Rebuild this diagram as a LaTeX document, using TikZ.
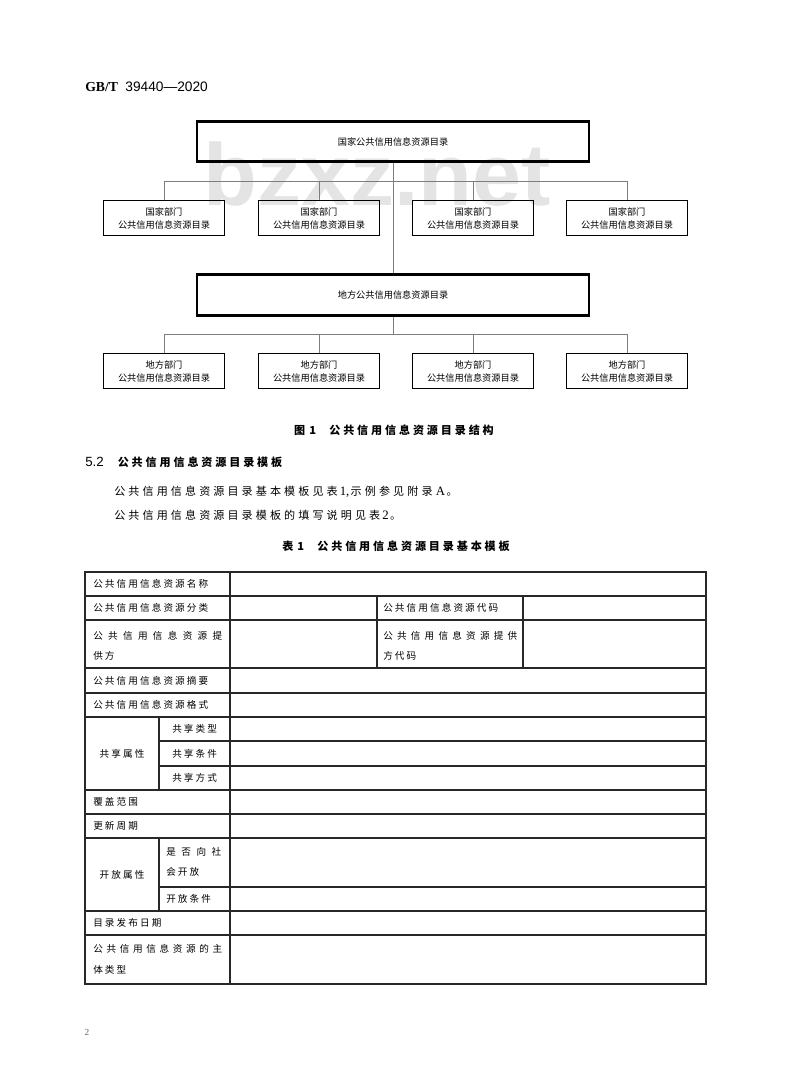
\documentclass[tikz,border=0pt]{standalone}
\usepackage{fontspec}
\setmainfont{Liberation Serif}
\newfontfamily\hei{Noto Sans CJK SC}
\newfontfamily\heisp[LetterSpace=26]{Noto Sans CJK SC}
\newfontfamily\song[LetterSpace=22]{Noto Sans CJK SC}
\newfontfamily\songwide[LetterSpace=28]{Noto Sans CJK SC}
\newfontfamily\arial{Liberation Sans}
\definecolor{linkgray}{RGB}{125,125,125}
\definecolor{wmgray}{RGB}{228,228,228}
\definecolor{rulegray}{RGB}{40,40,40}
% spread a line of characters over a given width (in px)
\newcommand\spreadline[2]{\makebox[\dimexpr #1pt*3/4\relax][s]{#2}}
% latin bits inside the body text
\newcommand\lat[1]{{\rmfamily\fontsize{9.6}{10}\selectfont #1}}

\begin{document}
\begin{tikzpicture}[x=0.75pt, y=-0.75pt,
    topbox/.style={draw, line width=2.2pt, minimum width=294pt, minimum height=30.5pt,
                   inner sep=0pt, font=\hei\fontsize{6.9}{8}\selectfont},
    subbox/.style={draw, line width=0.9pt, minimum width=91.3pt, minimum height=26pt,
                   inner sep=0pt, align=center, font=\hei\fontsize{6.9}{9.75}\selectfont},
    link/.style={draw=linkgray, line width=0.7pt},
    tbl/.style={draw=rulegray, line width=0.8pt},
    cell/.style={anchor=west, inner sep=0pt, font=\song\fontsize{7.2}{9}\selectfont},
    ccell/.style={inner sep=0pt, font=\song\fontsize{7.2}{9}\selectfont},
    body/.style={anchor=west, inner sep=0pt, font=\songwide\fontsize{8.3}{10}\selectfont},
    caption/.style={inner sep=0pt, font=\heisp\bfseries\fontsize{8.3}{10}\selectfont}]
  \useasboundingbox (0,0) rectangle (800,1091);
  \fill[white] (0,0) rectangle (800,1091);

  % watermark
  \node[text=wmgray, inner sep=0pt, font=\arial\bfseries\fontsize{66}{66}\selectfont] (wm) at (377,174) {bzxz.net};

  % header
  \node[anchor=west, inner sep=0pt, font=\fontsize{10.3}{12}\selectfont] (gbt) at (85,87)
    {\textbf{GB/T}\hspace{5.5pt}{\arial 39440—2020}};

  % figure 1: catalogue structure
  \node[topbox] (natl) at (393,141.5) {国家公共信用信息资源目录};
  \node[topbox] (locl) at (393,295) {地方公共信用信息资源目录};
  \foreach \x [count=\i] in {164,319,473,627} {
    \node[subbox] (natl\i) at (\x,218) {国家部门\\公共信用信息资源目录};
    \node[subbox] (locl\i) at (\x,371) {地方部门\\公共信用信息资源目录};
  }
  \coordinate (natlbus) at (393,181);
  \coordinate (loclbus) at (393,334);
  \draw[link] (natl.south) -- (locl.north);
  \draw[link] (locl.south) -- (loclbus);
  \draw[link] (natl1.north |- natlbus) -- (natl4.north |- natlbus);
  \draw[link] (locl1.north |- loclbus) -- (locl4.north |- loclbus);
  \foreach \i in {1,...,4} {
    \draw[link] (natl\i.north |- natlbus) -- (natl\i.north);
    \draw[link] (locl\i.north |- loclbus) -- (locl\i.north);
  }
  \node[caption] (fig1) at (394,430) {图\hspace{3pt}1\hspace{10pt}公共信用信息资源目录结构};

  % section 5.2
  \node[anchor=west, inner sep=0pt, font=\fontsize{8.3}{10}\selectfont] (sec52) at (85,462)
    {{\arial\fontsize{10}{12}\selectfont 5.2}\hspace{10.5pt}{\heisp\bfseries 公共信用信息资源目录模板}};
  \node[body] (para1) at (114,492) {公共信用信息资源目录基本模板见表\hspace{1.5pt}\lat{1,}\hspace{1pt}示例参见附录\hspace{2.5pt}\lat{A}\hspace{1pt}。};
  \node[body] (para2) at (114,515) {公共信用信息资源目录模板的填写说明见表\hspace{1.5pt}\lat{2}\hspace{1pt}。};
  \node[caption] (tab1) at (396,546) {表\hspace{3pt}1\hspace{10pt}公共信用信息资源目录基本模板};

  % table 1
  \draw[tbl, line width=1.2pt] (85,572) rectangle (706,984);
  \foreach \y in {596,620,668,693,717,790,814,838,911,935}
    \draw[tbl] (85,\y) -- (706,\y);
  \foreach \y in {741,766,887}
    \draw[tbl] (159,\y) -- (706,\y);
  \draw[tbl] (230,572) -- (230,984);
  \draw[tbl] (159,717) -- (159,790);
  \draw[tbl] (159,838) -- (159,911);
  \draw[tbl] (377,596) -- (377,668);
  \draw[tbl] (523,596) -- (523,668);

  \node[cell] (name)   at (93,584) {公共信用信息资源名称};
  \node[cell] (class)  at (93,608) {公共信用信息资源分类};
  \node[cell] (code)   at (383,608) {公共信用信息资源代码};
  \node[cell] (prov)   at (93,636) {\spreadline{129}{公\hfill 共\hfill 信\hfill 用\hfill 信\hfill 息\hfill 资\hfill 源\hfill 提}};
  \node[cell] (provb)  at (93,656) {供方};
  \node[cell] (pcode)  at (383,636) {\spreadline{134}{公\hfill 共\hfill 信\hfill 用\hfill 信\hfill 息\hfill 资\hfill 源\hfill 提\hfill 供}};
  \node[cell] (pcodeb) at (383,656) {方代码};
  \node[cell] (abst)   at (93,680.5) {公共信用信息资源摘要};
  \node[cell] (fmt)    at (93,705) {公共信用信息资源格式};
  \node[ccell] (share) at (122,753.5) {共享属性};
  \node[cell] (stype)  at (172,729) {共享类型};
  \node[cell] (scond)  at (172,753.5) {共享条件};
  \node[cell] (sway)   at (172,778) {共享方式};
  \node[cell] (scope)  at (93,802) {覆盖范围};
  \node[cell] (cycle)  at (93,826) {更新周期};
  \node[ccell] (open)  at (122,874.5) {开放属性};
  \node[cell] (pub)    at (166,852) {\spreadline{55}{是\hfill 否\hfill 向\hfill 社}};
  \node[cell] (pubb)   at (166,872) {会开放};
  \node[cell] (ocond)  at (166,899) {开放条件};
  \node[cell] (date)   at (93,923) {目录发布日期};
  \node[cell] (subj)   at (93,949) {\spreadline{129}{公\hfill 共\hfill 信\hfill 用\hfill 信\hfill 息\hfill 资\hfill 源\hfill 的\hfill 主}};
  \node[cell] (subjb)  at (93,970) {体类型};

  % page number
  \node[text=black!60, inner sep=0pt, font=\fontsize{7}{8}\selectfont] (pageno) at (87,1032) {2};
\end{tikzpicture}
\end{document}
